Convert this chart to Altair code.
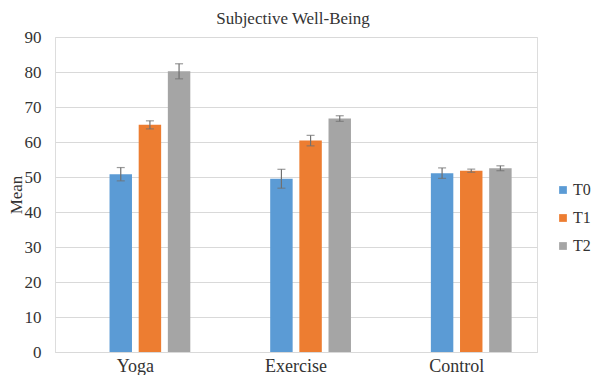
import altair as alt
import pandas as pd

groups = ["Yoga", "Exercise", "Control"]
series = ["T0", "T1", "T2"]
mean_t0 = [50.8, 49.5, 51.1]
mean_t1 = [64.9, 60.4, 51.8]
mean_t2 = [80.2, 66.7, 52.5]
err_t0 = [1.9, 2.7, 1.5]
err_t1 = [1.15, 1.5, 0.45]
err_t2 = [2.15, 0.8, 0.7]
y_ticks = [0, 10, 20, 30, 40, 50, 60, 70, 80, 90]
colors = ["#5B9BD5", "#ED7D31", "#A5A5A5"]
title_text = ["Subjective Well-Being"]

rows = []
for s, means, errs in zip(series, [mean_t0, mean_t1, mean_t2], [err_t0, err_t1, err_t2]):
    for g, m, e in zip(groups, means, errs):
        rows.append({"group": g, "series": s, "mean": m, "lo": m - e, "hi": m + e})
df = pd.DataFrame(rows)

FONT = "Liberation Serif"
TXT = "#333333"
PLOT_W = 482
PLOT_H = 315

x_axis = alt.Axis(title=None, labelAngle=0, ticks=False, labelFont=FONT,
                  labelFontSize=18, labelColor=TXT, labelPadding=5,
                  domainColor="#D9D9D9", domainWidth=1, grid=False)
x_scale = alt.Scale(paddingInner=0, paddingOuter=0)
y_axis = alt.Axis(values=y_ticks, title="Mean", titleFont=FONT, titleFontSize=17,
                  titleFontWeight="normal", titleColor=TXT, titleAngle=-90,
                  titleX=-47, titleY=PLOT_H / 2, titleBaseline="top", titleAlign="center",
                  labelFont=FONT, labelFontSize=17, labelColor=TXT, labelPadding=14,
                  ticks=False, domain=False, gridColor="#D9D9D9", gridWidth=1)
y_scale = alt.Scale(domain=[0, 90], nice=False)

def xe():
    return alt.X("group:N", sort=groups, scale=x_scale, axis=x_axis)

xo_enc = alt.XOffset("series:N",
                     scale=alt.Scale(domain=["pad"] + series, paddingInner=0.23, paddingOuter=0.87))

base = alt.Chart(df)

bars = base.mark_bar().encode(
    x=xe(),
    xOffset=xo_enc,
    y=alt.Y("mean:Q", scale=y_scale, axis=y_axis),
    color=alt.Color("series:N", scale=alt.Scale(domain=series, range=colors),
                    legend=alt.Legend(title=None, orient="none", legendX=500, legendY=145,
                                      symbolType="square", symbolSize=60, symbolStrokeWidth=0,
                                      labelFont=FONT, labelFontSize=16, labelColor=TXT,
                                      labelOffset=2, rowPadding=12, padding=0)),
)

rules = base.mark_rule(color="#707070", strokeWidth=1.2).encode(
    x=xe(),
    xOffset=xo_enc,
    y=alt.Y("lo:Q", scale=y_scale, axis=y_axis),
    y2="hi:Q",
)
caps_lo = base.mark_tick(color="#707070", size=8, thickness=1.2).encode(
    x=xe(),
    xOffset=xo_enc,
    y=alt.Y("lo:Q", scale=y_scale, axis=y_axis),
)
caps_hi = base.mark_tick(color="#707070", size=8, thickness=1.2).encode(
    x=xe(),
    xOffset=xo_enc,
    y=alt.Y("hi:Q", scale=y_scale, axis=y_axis),
)

title = alt.Chart(pd.DataFrame({"t": title_text})).mark_text(
    font=FONT, fontSize=17, color=TXT, align="center", baseline="alphabetic"
).encode(text="t:N", x=alt.value(PLOT_W / 2 - 3), y=alt.value(-13))

chart = alt.layer(bars, rules, caps_lo, caps_hi, title).properties(
    width=PLOT_W, height=PLOT_H,
    autosize=alt.AutoSizeParams(type="none"),
    padding={"left": 47, "top": 29, "right": 54, "bottom": 23},
).configure_view(stroke=None).configure(background="white")

chart.save("out.html", embed_options={"renderer": "svg", "actions": False})
